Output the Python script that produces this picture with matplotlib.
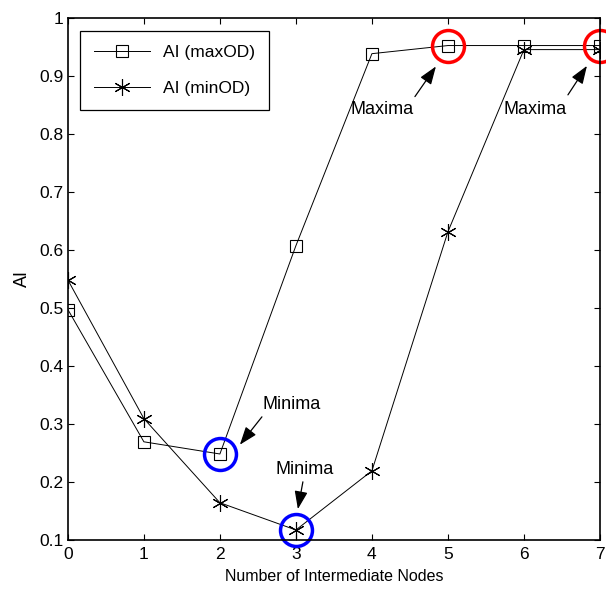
import matplotlib.pyplot as plt

plt.rcParams['font.family'] = ['Liberation Sans', 'DejaVu Sans']

nodes = [0, 1, 2, 3, 4, 5, 6, 7]
ai_max_od = [0.497, 0.269, 0.248, 0.607, 0.938, 0.952, 0.952, 0.952]
ai_min_od = [0.548, 0.309, 0.164, 0.117, 0.219, 0.631, 0.945, 0.945]
x_ticks = [0, 1, 2, 3, 4, 5, 6, 7]
y_ticks = [0.1, 0.2, 0.3, 0.4, 0.5, 0.6, 0.7, 0.8, 0.9, 1.0]
y_tick_labels = ['0.1', '0.2', '0.3', '0.4', '0.5', '0.6', '0.7', '0.8', '0.9', '1']

fig = plt.figure(figsize=(6.06, 5.90), dpi=100)
ax = fig.add_axes([0.112, 0.085, 0.878, 0.885])

asterisk = (6, 2, 0)
ax.plot(nodes, ai_max_od, color='black', lw=0.7, marker='s', ms=8.5,
        mfc='none', mec='black', mew=0.8, label='AI (maxOD)')
ax.plot(nodes, ai_min_od, color='black', lw=0.7, marker=asterisk, ms=12,
        mec='black', mew=0.8, label='AI (minOD)')

# highlight circles
ax.plot([5, 7], [ai_max_od[5], ai_max_od[7]], ls='none', marker='o', ms=23,
        mfc='none', mec='red', mew=2.5, clip_on=False)
ax.plot([2, 3], [ai_max_od[2], ai_min_od[3]], ls='none', marker='o', ms=23,
        mfc='none', mec='blue', mew=2.5, clip_on=False)

arrow = dict(arrowstyle='-|>,head_length=1.1,head_width=0.4', color='black',
             lw=0.9, shrinkA=0, shrinkB=0)
ax.annotate('', xy=(4.842, 0.916), xytext=(4.566, 0.864), arrowprops=arrow)
ax.text(4.132, 0.841, 'Maxima', ha='center', va='center', fontsize=13)
ax.annotate('', xy=(6.829, 0.917), xytext=(6.579, 0.867), arrowprops=arrow)
ax.text(6.145, 0.841, 'Maxima', ha='center', va='center', fontsize=13)
ax.annotate('', xy=(2.263, 0.264), xytext=(2.553, 0.312), arrowprops=arrow)
ax.text(2.947, 0.333, 'Minima', ha='center', va='center', fontsize=13)
ax.annotate('', xy=(3.026, 0.153), xytext=(3.092, 0.200), arrowprops=arrow)
ax.text(3.118, 0.222, 'Minima', ha='center', va='center', fontsize=13)

ax.set_xlim(0, 7)
ax.set_ylim(0.1, 1.0)
ax.set_xticks(x_ticks)
ax.set_yticks(y_ticks)
ax.set_yticklabels(y_tick_labels)
ax.tick_params(direction='in', length=4, labelsize=12.5, top=True, right=True, pad=3)
ax.tick_params(axis='x', pad=5)
for s in ax.spines.values():
    s.set_linewidth(1.2)
ax.set_xlabel('Number of Intermediate Nodes', fontsize=11.5, labelpad=5)
ax.set_ylabel('AI', fontsize=13, labelpad=6)

leg = ax.legend(loc='upper left', bbox_to_anchor=(0.023, 0.975), borderaxespad=0,
                fontsize=12.5, fancybox=False, edgecolor='black', framealpha=1,
                handlelength=3.2, borderpad=0.8, labelspacing=1.2)
leg.get_frame().set_linewidth(0.9)

plt.savefig('out.png', dpi=100)
